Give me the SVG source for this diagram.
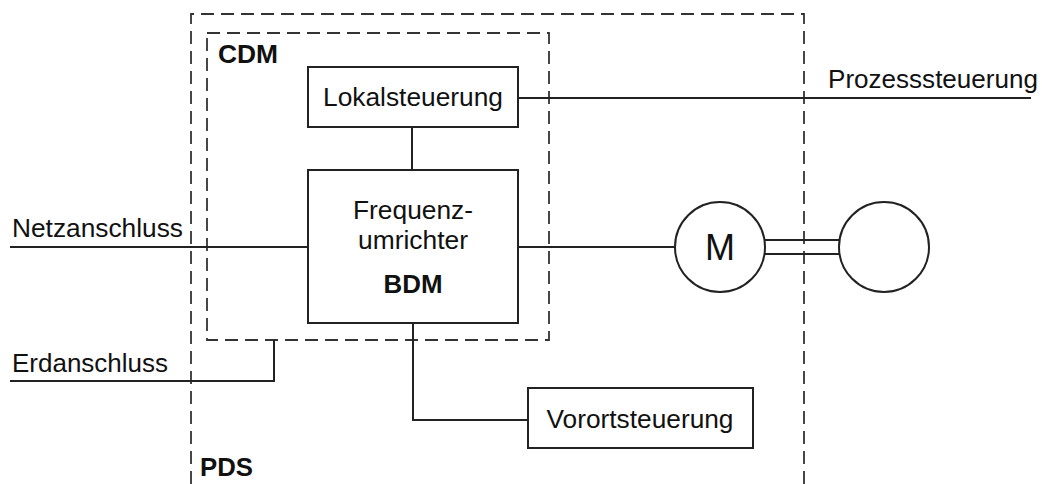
<svg xmlns="http://www.w3.org/2000/svg" width="1042" height="484" viewBox="0 0 1042 484">
<style>
.bg{fill:#fff}
.box{fill:#fff;stroke:#222;stroke-width:2}
.ln{fill:none;stroke:#222;stroke-width:2}
.dash{fill:none;stroke:#333;stroke-width:1.8;stroke-dasharray:13 7}
.t{font-family:"Liberation Sans",Arial,sans-serif;font-size:25px;fill:#111}
.b{font-family:"Liberation Sans",Arial,sans-serif;font-size:26px;font-weight:bold;fill:#111}
.m{text-anchor:middle}
</style>
<rect class="bg" width="1042" height="484"/>
<g id="PDS">
<path class="dash" d="M191,484 V14 H804 V484"/>
<text class="b" x="200" y="476" textLength="53" lengthAdjust="spacingAndGlyphs">PDS</text>
</g>
<g id="CDM">
<rect class="dash" x="207" y="33" width="342" height="307"/>
<text class="b" x="218" y="63" textLength="60" lengthAdjust="spacingAndGlyphs">CDM</text>
</g>
<g id="connectors">
<line class="ln" x1="518" y1="98" x2="1031" y2="98"/>
<line class="ln" x1="412" y1="127" x2="412" y2="170"/>
<line class="ln" x1="10" y1="247" x2="308" y2="247"/>
<line class="ln" x1="518" y1="247" x2="675" y2="247"/>
<path class="ln" d="M10,381 H274 V340"/>
<path class="ln" d="M413,323 V420 H528"/>
<line class="ln" x1="765" y1="240" x2="839" y2="240"/>
<line class="ln" x1="765" y1="254" x2="839" y2="254"/>
</g>
<g id="Lokalsteuerung">
<rect class="box" x="308" y="67" width="210" height="60"/>
<text class="t m" x="413" y="106" textLength="180" lengthAdjust="spacingAndGlyphs">Lokalsteuerung</text>
</g>
<g id="Frequenzumrichter">
<rect class="box" x="308" y="170" width="210" height="153"/>
<text class="t m" x="413" y="219" textLength="120" lengthAdjust="spacingAndGlyphs">Frequenz-</text>
<text class="t m" x="413" y="249" textLength="110" lengthAdjust="spacingAndGlyphs">umrichter</text>
<text class="b m" x="413" y="293" textLength="59" lengthAdjust="spacingAndGlyphs">BDM</text>
</g>
<g id="Motor">
<circle class="box" cx="720" cy="247" r="45"/>
<text class="t m" x="720" y="260" style="font-size:36px">M</text>
</g>
<g id="Last">
<circle class="box" cx="884" cy="247" r="45"/>
</g>
<g id="Vorortsteuerung">
<rect class="box" x="528" y="388" width="225" height="60"/>
<text class="t m" x="640" y="428" textLength="187" lengthAdjust="spacingAndGlyphs">Vorortsteuerung</text>
</g>
<g id="labels">
<text class="t" x="12" y="237" textLength="171" lengthAdjust="spacingAndGlyphs">Netzanschluss</text>
<text class="t" x="12" y="372" textLength="156" lengthAdjust="spacingAndGlyphs">Erdanschluss</text>
<text class="t" x="828" y="88" textLength="210" lengthAdjust="spacingAndGlyphs">Prozesssteuerung</text>
</g>
</svg>
